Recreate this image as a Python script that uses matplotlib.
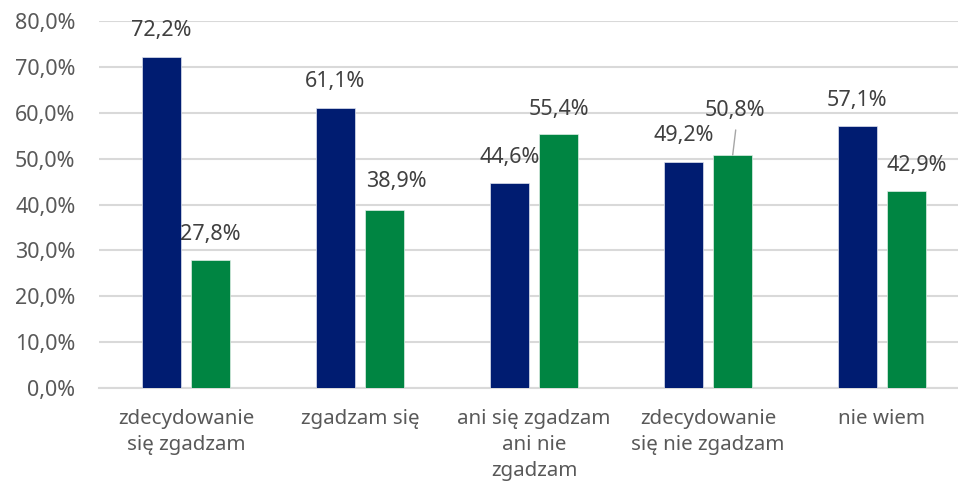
import numpy as np
import matplotlib.pyplot as plt
from matplotlib.ticker import FuncFormatter

plt.rcParams['font.family'] = ['Noto Sans', 'DejaVu Sans']

# data
categories = ["zdecydowanie\nsię zgadzam", "zgadzam się", "ani się zgadzam\nani nie\nzgadzam",
              "zdecydowanie\nsię nie zgadzam", "nie wiem"]
series_a = [72.2, 61.1, 44.6, 49.2, 57.1]   # navy
series_b = [27.8, 38.9, 55.4, 50.8, 42.9]   # green

# label offsets in pixels (Excel moved a few of them around)
off_a = [(0, 26), (0, 26), (0, 26), (0, 27), (0, 26)]
off_b = [(0, 26), (12, 28), (0, 24), (2, 44), (10, 26)]

navy = "#001C71"
green = "#008542"
text_col = "#404040"
tick_col = "#595959"
grid_col = "#D9D9D9"

fig = plt.figure(figsize=(9.58, 4.87), dpi=100)
ax = fig.add_axes([99 / 958, 99 / 487, 870 / 958, 367 / 487])

x = np.arange(len(categories))
w = 0.222
d = 0.142
bars_a = ax.bar(x - d, series_a, w, color=navy, edgecolor="#dfe3ee", linewidth=0.5, zorder=3)
bars_b = ax.bar(x + d, series_b, w, color=green, edgecolor="#dfeee5", linewidth=0.5, zorder=3)

def fmt(v):
    return f"{v:.1f}%".replace(".", ",")

for bars, vals, offs in [(bars_a, series_a, off_a), (bars_b, series_b, off_b)]:
    for b, v, (ox, oy) in zip(bars, vals, offs):
        xc = b.get_x() + b.get_width() / 2
        ax.annotate(fmt(v), (xc, v), xytext=(ox, oy), textcoords="offset pixels",
                    ha="center", va="center", fontsize=15.5, color=text_col, zorder=4)

# leader line for 50,8%
b = bars_b[3]
xc = b.get_x() + b.get_width() / 2
ax.annotate("", (xc, series_b[3]), xytext=(3, 25), textcoords="offset pixels",
            arrowprops=dict(arrowstyle="-", color="#a6a6a6", lw=1, shrinkA=0, shrinkB=0))

ax.set_xlim(-0.5, len(categories) - 0.5)
ax.set_ylim(0, 80)
ax.set_yticks(np.arange(0, 81, 10))
ax.yaxis.set_major_formatter(FuncFormatter(lambda v, p: fmt(v)))
ax.set_xticks(x)
ax.set_xticklabels(categories, linespacing=1.42)
ax.tick_params(axis="both", length=0, labelcolor=tick_col)
ax.tick_params(axis="y", pad=17, labelsize=15.5)
ax.tick_params(axis="x", pad=15, labelsize=14.8)

ax.grid(axis="y", color=grid_col, linewidth=1.5, zorder=0)
ax.set_axisbelow(True)
for s in ["top", "right", "left"]:
    ax.spines[s].set_visible(False)
ax.spines["bottom"].set_color(grid_col)
ax.spines["bottom"].set_linewidth(1.5)

fig.savefig("out.png", dpi=100)
